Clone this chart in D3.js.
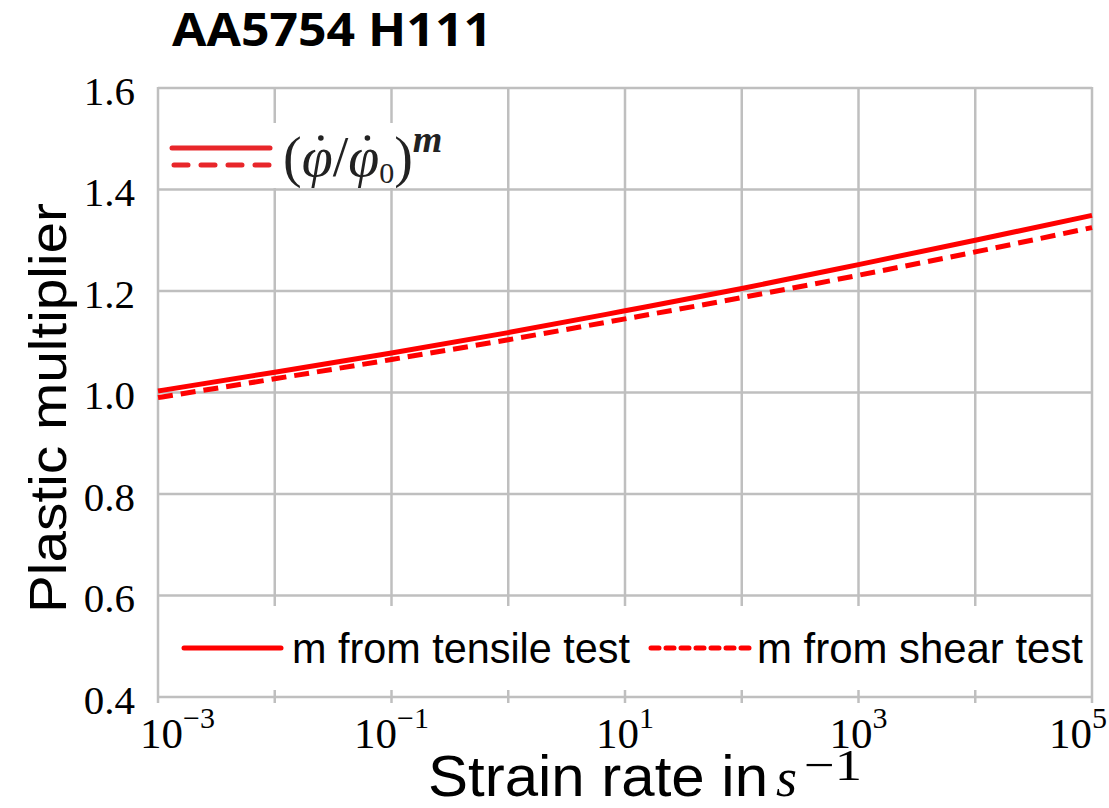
<!DOCTYPE html>
<html>
<head>
<meta charset="utf-8">
<script src="https://cdn.jsdelivr.net/npm/d3@7"></script>
<style>
  body { margin: 0; background: #fff; }
  text { fill: #000; }
</style>
</head>
<body>
<svg width="1109" height="808"></svg>
<script>
// values, one point per decade
var rates   = [1e-3, 1e-2, 1e-1, 1e0, 1e1, 1e2, 1e3, 1e4, 1e5];
var tensile = [1.003, 1.040, 1.078, 1.118, 1.161, 1.205, 1.252, 1.300, 1.349];
var shear   = [0.990, 1.027, 1.065, 1.104, 1.145, 1.187, 1.231, 1.277, 1.325];
var yTicks  = [0.4, 0.6, 0.8, 1.0, 1.2, 1.4, 1.6];
var xLabelExp = [-3, -1, 1, 3, 5];
var legendNames = ["m from tensile test", "m from shear test"];

var svg = d3.select("svg");
var margin = {left: 158, right: 1092, top: 88, bottom: 697};
var serif = "'Liberation Serif', 'Times New Roman', serif";
var sans = "'Liberation Sans', Arial, sans-serif";

var x = d3.scaleLog().domain([1e-3, 1e5]).range([margin.left, margin.right]);
var y = d3.scaleLinear().domain([0.4, 1.6]).range([margin.bottom, margin.top]);

var gridColor = "#bfbfbf";

// grid lines
var grid = svg.append("g").attr("class", "grid");
grid.selectAll("line.h").data(yTicks).enter().append("line")
    .attr("x1", margin.left).attr("x2", margin.right)
    .attr("y1", function(d){ return y(d); }).attr("y2", function(d){ return y(d); })
    .style("stroke", gridColor).style("stroke-width", 2.5);
grid.selectAll("line.v").data(rates).enter().append("line")
    .attr("x1", function(d){ return x(d); }).attr("x2", function(d){ return x(d); })
    .attr("y1", margin.top - 1).attr("y2", margin.bottom + 6)
    .style("stroke", gridColor).style("stroke-width", 2.5);

// y axis labels
var yAxis = svg.append("g")
    .attr("transform", "translate(" + margin.left + ",0)")
    .call(d3.axisLeft(y).tickValues(yTicks).tickSize(0).tickPadding(23).tickFormat(d3.format(".1f")));
yAxis.select(".domain").remove();
yAxis.selectAll("text")
    .attr("dy", "0.39em")
    .style("font-family", serif)
    .style("font-size", "41px");

// x axis labels 10^n
var xAxis = svg.append("g");
xLabelExp.forEach(function(e){
    var v = Math.pow(10, e);
    var t = xAxis.append("text")
        .attr("y", 748)
        .style("font-family", serif)
        .style("font-size", "43px");
    t.append("tspan").text("10");
    t.append("tspan").attr("dy", -20).style("font-size", "30px")
        .text(e < 0 ? "\u2212" + Math.abs(e) : e);
    var w = t.node().getComputedTextLength();
    var left = x(v) - w / 2;
    left = Math.max(140, Math.min(1107 - w, left));
    t.attr("x", left);
});

// curves
var line = d3.line()
    .x(function(d){ return x(d[0]); })
    .y(function(d){ return y(d[1]); })
    .curve(d3.curveMonotoneX);

svg.append("path")
    .datum(rates.map(function(r, i){ return [r, tensile[i]]; }))
    .attr("d", line)
    .style("fill", "none").style("stroke", "#ff0000").style("stroke-width", 5);

svg.append("path")
    .datum(rates.map(function(r, i){ return [r, shear[i]]; }))
    .attr("d", line)
    .style("fill", "none").style("stroke", "#ff0000").style("stroke-width", 5)
    .style("stroke-dasharray", "15,8");

// top-left legend box (formula)
var fl = svg.append("g");
fl.append("rect").attr("x", 165).attr("y", 123).attr("width", 278).attr("height", 65)
    .style("fill", "#fff");
fl.append("line").attr("x1", 172).attr("x2", 270).attr("y1", 148).attr("y2", 148)
    .style("stroke", "#e8262a").style("stroke-width", 5).style("stroke-linecap", "round");
fl.append("line").attr("x1", 174).attr("x2", 270).attr("y1", 165).attr("y2", 165)
    .style("stroke", "#e8262a").style("stroke-width", 5).style("stroke-linecap", "round")
    .style("stroke-dasharray", "14,13");

// formula pieces laid out one after the other
var parts = [
    {t: "(", size: 56, dy: 0, italic: false, dot: false},
    {t: "\u03c6", size: 56, dy: 0, italic: true, dot: true},
    {t: "/", size: 56, dy: 0, italic: false, dot: false},
    {t: "\u03c6", size: 56, dy: 0, italic: true, dot: true},
    {t: "0", size: 30, dy: 7, italic: false, dot: false},
    {t: ")", size: 56, dy: 0, italic: false, dot: false},
    {t: "m", size: 38, dy: -24, italic: true, dot: false, bold: true}
];
var fx = 283, fy = 176;
parts.forEach(function(p){
    var t = fl.append("text").attr("x", fx).attr("y", fy + p.dy)
        .style("font-family", serif).style("font-size", p.size + "px")
        .style("font-style", p.italic ? "italic" : "normal")
        .style("font-weight", p.bold ? "bold" : "normal")
        .style("fill", "#222")
        .text(p.t);
    var w = t.node().getComputedTextLength();
    if (p.dot) {
        fl.append("circle").attr("cx", fx + w * 0.62).attr("cy", fy - 38).attr("r", 2.8)
            .style("fill", "#222");
    }
    fx += w;
});

// bottom legend
var lg = svg.append("g");
lg.append("rect").attr("x", 168).attr("y", 606).attr("width", 920).attr("height", 84)
    .style("fill", "#fff");
lg.append("line").attr("x1", 184).attr("x2", 281).attr("y1", 648).attr("y2", 648)
    .style("stroke", "#ff0000").style("stroke-width", 5).style("stroke-linecap", "round");
lg.append("line").attr("x1", 651).attr("x2", 750).attr("y1", 648).attr("y2", 648)
    .style("stroke", "#ff0000").style("stroke-width", 5).style("stroke-linecap", "round")
    .style("stroke-dasharray", "8,7");
var legX = [292, 757], legW = [338, 326];
legendNames.forEach(function(n, i){
    lg.append("text").attr("x", legX[i]).attr("y", 663)
        .attr("textLength", legW[i]).attr("lengthAdjust", "spacingAndGlyphs")
        .style("font-family", sans)
        .style("font-size", "42px")
        .text(n);
});

// title
svg.append("text").attr("x", 172).attr("y", 46)
    .attr("textLength", 320).attr("lengthAdjust", "spacingAndGlyphs")
    .style("font-family", "'Open Sans', 'Noto Sans', sans-serif")
    .style("font-weight", "bold").style("font-size", "46px")
    .text("AA5754 H111");

// y axis title
svg.append("text")
    .attr("transform", "translate(66,408) rotate(-90)")
    .attr("text-anchor", "middle")
    .attr("textLength", 410).attr("lengthAdjust", "spacingAndGlyphs")
    .style("font-family", sans)
    .style("font-size", "52px")
    .text("Plastic multiplier");

// x axis title
svg.append("text").attr("x", 428).attr("y", 796)
    .attr("textLength", 340).attr("lengthAdjust", "spacingAndGlyphs")
    .style("font-family", sans)
    .style("font-size", "58px")
    .text("Strain rate in");
svg.append("text").attr("x", 776).attr("y", 796)
    .style("font-family", serif).style("font-style", "italic")
    .style("font-size", "54px")
    .text("s");
svg.append("text").attr("x", 804).attr("y", 780)
    .attr("textLength", 58).attr("lengthAdjust", "spacingAndGlyphs")
    .style("font-family", serif)
    .style("font-size", "45px")
    .text("\u22121");
</script>
</body>
</html>
